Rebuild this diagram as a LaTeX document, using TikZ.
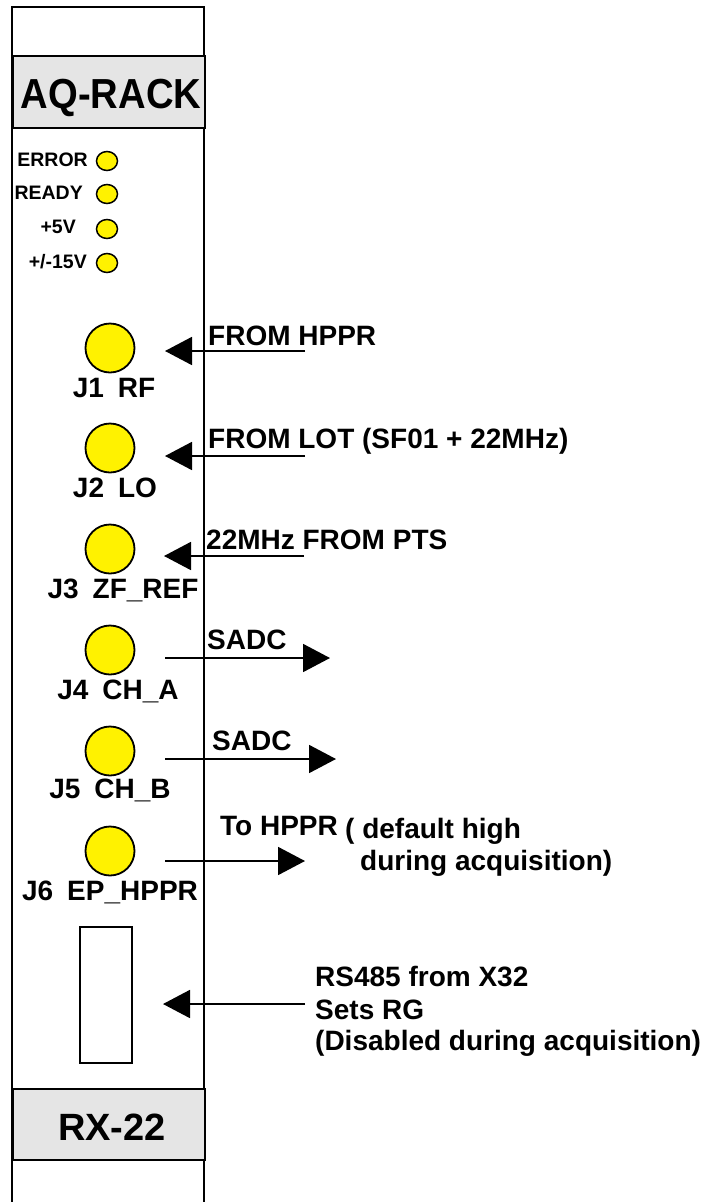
\documentclass[tikz,border=0pt]{standalone}
\usepackage{fontspec}
\setmainfont{Liberation Sans}
\usetikzlibrary{arrows.meta,shapes.geometric}
\begin{document}
\begin{tikzpicture}[x=1pt,y=-1pt,
  panel/.style={draw=black,line width=1.8pt},
  band/.style={draw=black,line width=1.8pt,fill=black!10,minimum width=192pt,inner sep=0pt},
  led/.style={ellipse,draw=black,line width=1.5pt,fill=yellow,minimum width=21pt,minimum height=19pt,inner sep=0pt},
  jack/.style={circle,draw=black,line width=1.8pt,fill=yellow,minimum size=49pt,inner sep=0pt},
  plug/.style={draw=black,line width=1.8pt,fill=white,minimum width=52pt,minimum height=136pt,inner sep=0pt},
  title/.style={font=\fontsize{42}{46}\selectfont\bfseries,inner sep=0pt},
  ledlbl/.style={font=\fontsize{19.5}{22}\selectfont\bfseries,inner sep=0pt,anchor=base east},
  jlbl/.style={font=\fontsize{28}{32}\selectfont\bfseries,inner sep=0pt,anchor=base},
  txt/.style={font=\fontsize{28}{32}\selectfont\bfseries,inner sep=0pt,anchor=base west},
  sig/.style={line width=1.8pt,-{Triangle[length=27pt,width=28pt]}}
]
\useasboundingbox (0,0) rectangle (704,1202);
% panel outline
\draw[panel] (12,1202) -- (12,7) -- (204,7) -- (204,1202);
% header and footer bands
\node[band,minimum height=72pt,anchor=north west] (hdr) at (12,55) {};
\node[title,anchor=base] (aq) at (111,108) {\scalebox{0.91}[1]{AQ-RACK}};
\node[band,minimum height=71pt,anchor=north west] (ftr) at (12,1088) {};
\node[title,font=\fontsize{38}{42}\selectfont\bfseries,anchor=base] (rx) at (112,1140) {RX-22};
% LEDs
\node[led] (lerr) at (107,161) {};
\node[led] (lrdy) at (107,194) {};
\node[led] (l5) at (107,229) {};
\node[led] (l15) at (107,263) {};
\node[ledlbl] (terr) at (88,166) {ERROR};
\node[ledlbl] (trdy) at (83,199) {READY};
\node[ledlbl] (t5) at (76,233) {+5V};
\node[ledlbl] (t15) at (87,268) {+/-15V};
% jacks
\node[jack] (j1) at (110,348) {};
\node[jack] (j2) at (110,448) {};
\node[jack] (j3) at (110,549) {};
\node[jack] (j4) at (110,650) {};
\node[jack] (j5) at (110,751) {};
\node[jack] (j6) at (110,851) {};
\node[jlbl] (tj1) at (114,397) {J1\,\,\,RF};
\node[jlbl] (tj2) at (115,497) {J2\,\,\,LO};
\node[jlbl] (tj3) at (123,598) {J3\,\,\,ZF\_REF};
\node[jlbl] (tj4) at (118,699) {J4\,\,\,CH\_A};
\node[jlbl] (tj5) at (110,798) {J5\,\,\,CH\_B};
\node[jlbl] (tj6) at (110,900) {J6\,\,\,EP\_HPPR};
% RS485 connector
\node[plug] (x32) at (106,995) {};
% signal end points
\coordinate (a1s) at (305,351); \coordinate (a1e) at (165,351);
\coordinate (a2s) at (305,456); \coordinate (a2e) at (165,456);
\coordinate (a3s) at (304,556); \coordinate (a3e) at (164,556);
\coordinate (a4s) at (165,658); \coordinate (a4e) at (330,658);
\coordinate (a5s) at (165,759); \coordinate (a5e) at (336,759);
\coordinate (a6s) at (165,861); \coordinate (a6e) at (305,861);
\coordinate (a7s) at (305,1004); \coordinate (a7e) at (163,1004);
\draw[sig] (a1s) -- (a1e);
\draw[sig] (a2s) -- (a2e);
\draw[sig] (a3s) -- (a3e);
\draw[sig] (a4s) -- (a4e);
\draw[sig] (a5s) -- (a5e);
\draw[sig] (a6s) -- (a6e);
\draw[sig] (a7s) -- (a7e);
% labels
\node[txt] (s1) at (208,345) {FROM HPPR};
\node[txt] (s2) at (208,448) {FROM LOT (SF01 + 22MHz)};
\node[txt] (s3) at (206,549) {22MHz FROM PTS};
\node[txt] (s4) at (207,649) {SADC};
\node[txt] (s5) at (212,750) {SADC};
\node[txt] (s6) at (220,835) {To HPPR};
\node[txt] (s6b) at (345,838) {( default high};
\node[txt] (s6c) at (360,870) {during acquisition)};
\node[txt] (s7a) at (315,986) {RS485 from X32};
\node[txt] (s7b) at (315,1019) {Sets RG};
\node[txt] (s7c) at (315,1050) {(Disabled during acquisition)};
\end{tikzpicture}
\end{document}
